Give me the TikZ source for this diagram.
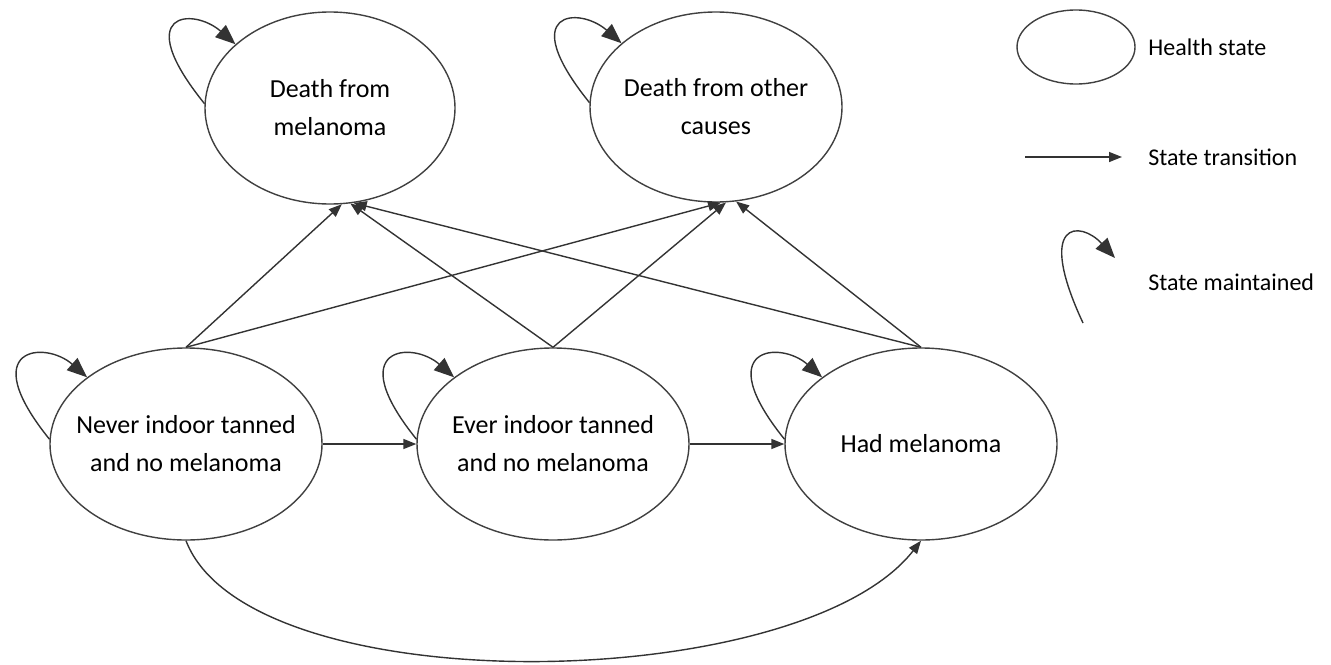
\documentclass[tikz,border=0pt]{standalone}
\usepackage{fontspec}
\setmainfont{Carlito}
\usetikzlibrary{arrows.meta,shapes.geometric}

\begin{document}
\begin{tikzpicture}[
  x=0.5pt,y=-0.5pt,
  state/.style={ellipse,draw=black!75,line width=0.7pt,align=center,
                inner xsep=-10pt,inner ysep=0pt,
                minimum width=136pt,minimum height=96pt,
                font=\fontsize{13}{19}\selectfont},
  flow/.style={-{Triangle[length=6.5pt,width=5pt]},line width=0.7pt,draw=black!80},
  keep/.style={-{Triangle[length=10pt,width=8pt]},line width=0.7pt,draw=black!80},
  keytext/.style={anchor=west,inner sep=0pt,font=\fontsize{12}{14}\selectfont}
]
\useasboundingbox (0,0) rectangle (1331,664);

% Absorbing states
\node[state,minimum width=125pt] (dm) at (330,108) {Death from\\melanoma};
\node[state,minimum width=126pt,minimum height=95pt] (do) at (716,107) {Death from other\\causes};

% Living states
\node[state] (n) at (186,444) {Never indoor tanned\\and no melanoma};
\node[state] (e) at (553,444) {Ever indoor tanned\\and no melanoma};
\node[state] (h) at (921,444) {Had melanoma};

% Staying in the same state
\foreach \s in {dm,do,n,e,h}
  \draw[keep] (\s.178) .. controls +(-75,-93) and +(-42,-37) .. (\s.146);

% Transitions
\draw[flow] (n) -- (e);
\draw[flow] (e) -- (h);
\draw[flow] (n.north) -- (dm.277);
\draw[flow] (n.north) -- (do.273);
\draw[flow] (e.north) -- (dm.282);
\draw[flow] (e.north) -- (do.276);
\draw[flow] (h.north) -- (dm.284);
\draw[flow] (h.north) -- (do.282);
\draw[flow] (n.south) .. controls +(63,164) and +(-121,155) .. (h.south);

% Key
\node[ellipse,draw=black!75,line width=0.7pt,minimum width=59pt,minimum height=37pt] (keyell) at (1076,47) {};
\node[keytext] (keystate) at (1148,47) {Health state};
\coordinate (keya) at (1025,157);
\coordinate (keyb) at (1122,157);
\draw[flow] (keya) -- (keyb);
\node[keytext] (keymove) at (1148,157) {State transition};
\coordinate (keyc) at (1083,323);
\coordinate (keyd) at (1115,258);
\draw[keep] (keyc) .. controls (1035,220) and (1080,220) .. (keyd);
\node[keytext] (keystay) at (1148,282) {State maintained};
\end{tikzpicture}
\end{document}
